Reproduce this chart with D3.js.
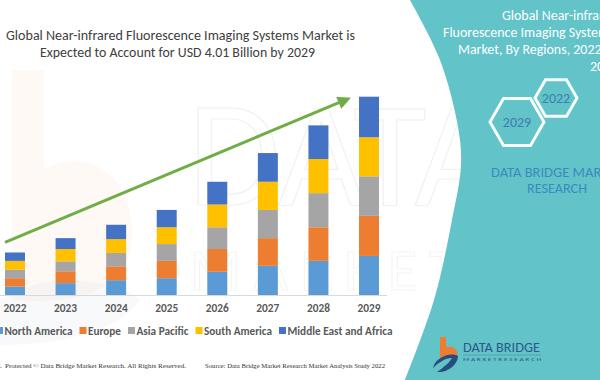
<!DOCTYPE html>
<html>
<head>
<meta charset="utf-8">
<script src="https://cdn.jsdelivr.net/npm/d3@7"></script>
<style>
  body { margin: 0; background: #fff; }
  svg { display: block; }
</style>
</head>
<body>
<svg id="chart" width="600" height="380"></svg>
<script>
//=================================
//   Data (USD billion)
//=================================
var years = ["2022", "2023", "2024", "2025", "2026", "2027", "2028", "2029"];
var regions = ["North America", "Europe", "Asia Pacific", "South America", "Middle East and Africa"];
var northAmerica     = [0.17, 0.24, 0.30, 0.34, 0.47, 0.59, 0.69, 0.79];
var europe           = [0.17, 0.24, 0.28, 0.35, 0.46, 0.56, 0.68, 0.81];
var asiaPacific      = [0.17, 0.20, 0.27, 0.34, 0.44, 0.57, 0.69, 0.80];
var southAmerica     = [0.18, 0.25, 0.28, 0.34, 0.46, 0.57, 0.69, 0.79];
var middleEastAfrica = [0.17, 0.22, 0.29, 0.35, 0.46, 0.58, 0.68, 0.82];
var regionColors = ["#5b9bd5", "#ed7d31", "#a5a5a5", "#ffc000", "#4472c4"];

var titleLines = ["Global Near-infrared Fluorescence Imaging Systems Market is",
                  "Expected to Account for USD 4.01 Billion by 2029"];
var sideLines = ["Global Near-infrared", "Fluorescence Imaging Systems",
                 "Market, By Regions, 2022 to", "2029"];

//Build rows for d3.stack
var series = [northAmerica, europe, asiaPacific, southAmerica, middleEastAfrica];
var table = years.map(function(yr, i) {
  var row = { year: yr };
  regions.forEach(function(r, j) { row[r] = series[j][i]; });
  return row;
});
var totals = table.map(function(row) { return d3.sum(regions, function(r) { return row[r]; }); });

var svg = d3.select("#chart");
var calibri = "Carlito, Calibri, Lato, sans-serif";

//fit a text to a given width (reference font is narrow Calibri)
function fit(sel, w) {
  sel.attr("textLength", w).attr("lengthAdjust", "spacingAndGlyphs");
}
function squeeze(sel, k) {
  sel.each(function() {
    var w = this.getComputedTextLength();
    d3.select(this).attr("textLength", w * k).attr("lengthAdjust", "spacingAndGlyphs");
  });
}

//========================
//   Background + watermark
//========================
svg.append("rect").attr("width", 600).attr("height", 380).attr("fill", "#fff");

var wm = svg.append("g").attr("class", "watermark");
//faint "b" of the logo on the left
wm.append("path")
  .attr("d", "M12,70 L44,70 L44,170 C70,150 130,160 132,230 C134,290 80,305 12,300 Z")
  .attr("fill", "#f6b88c").attr("opacity", 0.09);
wm.append("path")
  .attr("d", "M0,300 C40,270 120,280 140,300 C120,330 60,345 0,345 Z")
  .attr("fill", "#b9c9dc").attr("opacity", 0.1);
wm.append("text")
  .attr("x", 188).attr("y", 205)
  .attr("font-family", calibri).attr("font-size", 150).attr("font-weight", 300)
  .attr("fill", "none").attr("stroke", "#d8d8d8").attr("stroke-width", 1.2).attr("opacity", 0.35)
  .text("DATA BRIDGE");
wm.append("text")
  .attr("x", 190).attr("y", 290)
  .attr("font-family", calibri).attr("font-size", 60).attr("font-weight", 300)
  .attr("fill", "none").attr("stroke", "#dcdcdc").attr("stroke-width", 1).attr("opacity", 0.3)
  .attr("letter-spacing", 12)
  .text("MARKET RESEARCH");

//========================
//   Teal side panel
//========================
var edge = [[410, 0], [440, 60], [458, 127], [461, 165], [452, 220], [434, 300], [405, 380]];
var edgeLine = d3.line().curve(d3.curveCatmullRom);
svg.append("path")
  .attr("d", edgeLine(edge) + "L600,380L600,0Z")
  .attr("fill", "#62c3c8");

svg.append("g").selectAll("text")
  .data(sideLines)
  .join("text")
  .attr("x", function(d, i) { return [502, 443, 458, 590][i]; })
  .attr("y", function(d, i) { return 20 + i * 17; })
  .attr("font-family", calibri).attr("font-size", 15)
  .attr("fill", "#fff")
  .text(function(d) { return d; })
  .call(squeeze, 0.93);

//hexagons
var hexes = [{ label: "2022", cx: 556, cy: 98, r: 21 }, { label: "2029", cx: 517, cy: 122, r: 27 }];
var hexG = svg.append("g").selectAll("g").data(hexes).join("g");
hexG.append("path")
  .attr("d", function(h) {
    return d3.line()(d3.range(6).map(function(k) {
      var a = k * Math.PI / 3;
      return [h.cx + h.r * Math.cos(a), h.cy + h.r * Math.sin(a)];
    })) + "Z";
  })
  .attr("fill", "none").attr("stroke", "#fff").attr("stroke-width", 3).attr("stroke-opacity", 0.95);
hexG.append("text")
  .attr("x", function(h) { return h.cx; })
  .attr("y", function(h) { return h.cy + 5; })
  .attr("text-anchor", "middle")
  .attr("font-family", calibri).attr("font-size", 14)
  .attr("fill", "#3d7fae")
  .text(function(h) { return h.label; });

svg.append("text")
  .attr("x", 557).attr("y", 177).attr("text-anchor", "middle")
  .attr("font-family", calibri).attr("font-size", 15).attr("fill", "#3a8bbd")
  .text("DATA BRIDGE MARKET").call(fit, 132);
svg.append("text")
  .attr("x", 557).attr("y", 193).attr("text-anchor", "middle")
  .attr("font-family", calibri).attr("font-size", 15).attr("fill", "#3a8bbd")
  .text("RESEARCH").call(fit, 60);

//bottom logo
var logo = svg.append("g");
logo.append("path")
  .attr("d", "M440,337 L446,337 L446,347 C455,345 460,352 456,358 L440,358 Z")
  .attr("fill", "#ee7d31");
logo.append("path")
  .attr("d", "M433,368 C436,356 452,352 458,356 C458,364 448,373 437,372 C443,368 450,362 452,358 C445,358 438,363 433,368 Z")
  .attr("fill", "#264d7e");
logo.append("text")
  .attr("x", 463).attr("y", 352)
  .attr("font-family", calibri).attr("font-size", 14).attr("fill", "#2c5a88")
  .text("DATA BRIDGE").call(fit, 77);
logo.append("line")
  .attr("x1", 463).attr("x2", 541).attr("y1", 355).attr("y2", 355)
  .attr("stroke", "#5a7fa5").attr("stroke-width", 0.6);
logo.append("text")
  .attr("x", 463).attr("y", 361)
  .attr("font-family", calibri).attr("font-size", 4).attr("fill", "#2c5a88")
  .text("M A R K E T   R E S E A R C H").call(fit, 78);

//========================
//   Scales + stacked bars
//========================
var x = d3.scaleBand().domain(years).range([5, 379]).paddingInner(0.605).paddingOuter(0);
var y = d3.scaleLinear().domain([0, 4.01]).range([295, 96.7]);

var stacked = d3.stack().keys(regions)(table);

svg.append("g")
  .selectAll("g")
  .data(stacked)
  .join("g")
  .attr("fill", function(d, i) { return regionColors[i]; })
  .selectAll("rect")
  .data(function(d) { return d; })
  .join("rect")
  .attr("x", function(d) { return x(d.data.year); })
  .attr("y", function(d) { return y(d[1]); })
  .attr("width", x.bandwidth())
  .attr("height", function(d) { return y(d[0]) - y(d[1]); });

//x axis
var xAxis = svg.append("g")
  .attr("transform", "translate(0,295)")
  .call(d3.axisBottom(x).tickSize(0).tickPadding(10));
xAxis.select(".domain").attr("d", "M0,0.5H387").attr("stroke", "#d9d9d9");
xAxis.selectAll("text")
  .attr("font-family", calibri).attr("font-size", 12).attr("font-weight", "bold")
  .attr("fill", "#595959").attr("dy", "0.55em")
  .call(fit, 23);

//growth arrow
svg.append("defs").append("marker")
  .attr("id", "head")
  .attr("viewBox", "0 0 10 10").attr("refX", 6).attr("refY", 5)
  .attr("markerWidth", 5).attr("markerHeight", 4.4)
  .attr("orient", "auto")
  .append("path").attr("d", "M0,0L10,5L0,10Z").attr("fill", "#70ad47");

svg.append("line")
  .attr("x1", x(years[0])).attr("y1", y(totals[0]) - 10)
  .attr("x2", x(years[7]) - 13).attr("y2", y(totals[7]) + 3)
  .attr("stroke", "#70ad47").attr("stroke-width", 3)
  .attr("marker-end", "url(#head)");

//========================
//   Title
//========================
svg.append("g").selectAll("text")
  .data(titleLines)
  .join("text")
  .attr("x", function(d, i) { return i === 0 ? 180.5 : 177.5; })
  .attr("y", function(d, i) { return 40 + i * 17; })
  .attr("text-anchor", "middle")
  .attr("font-family", calibri).attr("font-size", 14).attr("fill", "#404040")
  .text(function(d) { return d; })
  .each(function(d, i) { d3.select(this).call(fit, i === 0 ? 349 : 275); });

//========================
//   Legend
//========================
var legendWidths = [68, 33, 52, 68, 105];
var lx = -4;
var legend = svg.append("g").attr("transform", "translate(0,327)");
regions.forEach(function(r, i) {
  legend.append("rect")
    .attr("x", lx).attr("y", 0).attr("width", 7).attr("height", 7)
    .attr("fill", regionColors[i]);
  legend.append("text")
    .attr("x", lx + 8.5).attr("y", 8)
    .attr("font-family", calibri).attr("font-size", 12).attr("font-weight", "bold")
    .attr("fill", "#595959")
    .text(r).call(fit, legendWidths[i]);
  lx += 8.5 + legendWidths[i] + 7;
});

//========================
//   Footer
//========================
var serif = "'Liberation Serif', 'Times New Roman', serif";
svg.append("text")
  .attr("x", 2).attr("y", 368).attr("text-anchor", "end")
  .attr("font-family", serif).attr("font-size", 7).attr("fill", "#333")
  .text("Copyrighted.");
svg.append("text")
  .attr("x", 5).attr("y", 368)
  .attr("font-family", serif).attr("font-size", 7).attr("fill", "#333")
  .text("Protected © Data Bridge Market Research. All Rights Reserved.").call(fit, 181);
svg.append("text")
  .attr("x", 205).attr("y", 368)
  .attr("font-family", serif).attr("font-size", 7).attr("fill", "#333")
  .text("Source: Data Bridge Market Research Market Analysis Study 2022").call(fit, 180);
</script>
</body>
</html>
